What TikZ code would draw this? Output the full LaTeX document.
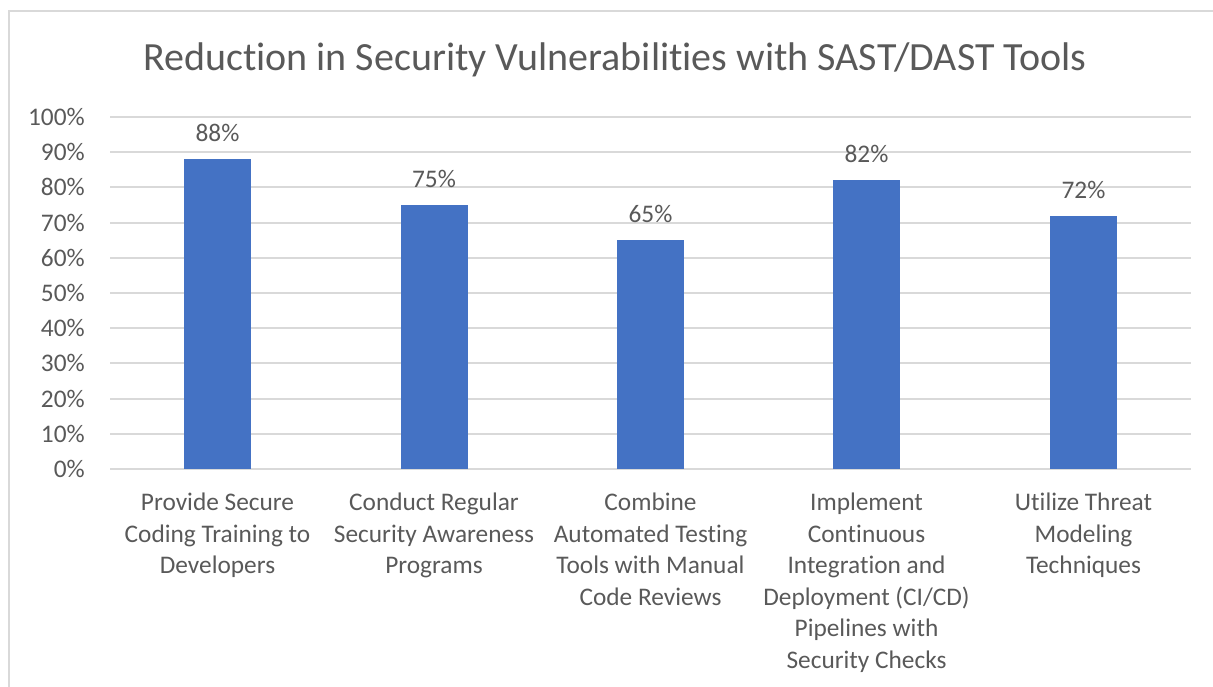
\documentclass[tikz,border=0pt]{standalone}
\usepackage{fontspec}
\setmainfont{Carlito}[Ligatures=NoCommon]
\usepackage{tikz}
\definecolor{barblue}{HTML}{4472C4}
\definecolor{txtgray}{HTML}{595959}
\definecolor{gridgray}{HTML}{D9D9D9}

\begin{document}
\begin{tikzpicture}[x=0.75pt,y=-0.75pt,
		lbl/.style={font=\fontsize{19}{23.6}\selectfont,text=txtgray,inner sep=0pt},
		cat/.style={lbl,align=center,anchor=north},
		bar/.style={fill=barblue,draw=none},
		gline/.style={gridgray,line width=1.5pt}]
				\useasboundingbox (0,0) rectangle (1213,686);
				\clip (0,0) rectangle (1213,686);
				% chart frame (cut at right and bottom)
				\draw[gline] (9,11) rectangle (1230,700);
				\node[lbl,font=\fontsize{30}{34}\selectfont] (title) at (615,60) {Reduction in Security Vulnerabilities with SAST/DAST Tools};
				% grid lines, 0% at y=469, 10% = 35.2
				\foreach \v in {0,10,...,100}
				{\draw[gline] (110,469-3.52*\v) -- (1191,469-3.52*\v);
				\node[lbl,anchor=east] (y\v) at (85,469-3.52*\v) {\v\%};}
				% bars
				\fill[bar] (184,469) rectangle (251,469-3.52*88);
				\fill[bar] (400.5,469) rectangle (467.5,469-3.52*75);
				\fill[bar] (617,469) rectangle (684,469-3.52*65);
				\fill[bar] (833,469) rectangle (900,469-3.52*82);
				\fill[bar] (1050,469) rectangle (1117,469-3.52*72);
				% values
				\node[lbl] (v1) at (217.5,443-3.52*88) {88\%};
				\node[lbl] (v2) at (434,443-3.52*75) {75\%};
				\node[lbl] (v3) at (650.5,443-3.52*65) {65\%};
				\node[lbl] (v4) at (866.5,443-3.52*82) {82\%};
				\node[lbl] (v5) at (1083.5,443-3.52*72) {72\%};
				% categories
				\node[cat] (c1) at (217.5,493) {Provide Secure\\Coding Training to\\Developers};
				\node[cat] (c2) at (434,493) {Conduct Regular\\Security Awareness\\Programs};
				\node[cat] (c3) at (650.5,493) {Combine\\Automated Testing\\Tools with Manual\\Code Reviews};
				\node[cat] (c4) at (866.5,493) {Implement\\Continuous\\Integration and\\Deployment (CI/CD)\\Pipelines with\\Security Checks};
				\node[cat] (c5) at (1083.5,493) {Utilize Threat\\Modeling\\Techniques};
			\end{tikzpicture}
\end{document}
